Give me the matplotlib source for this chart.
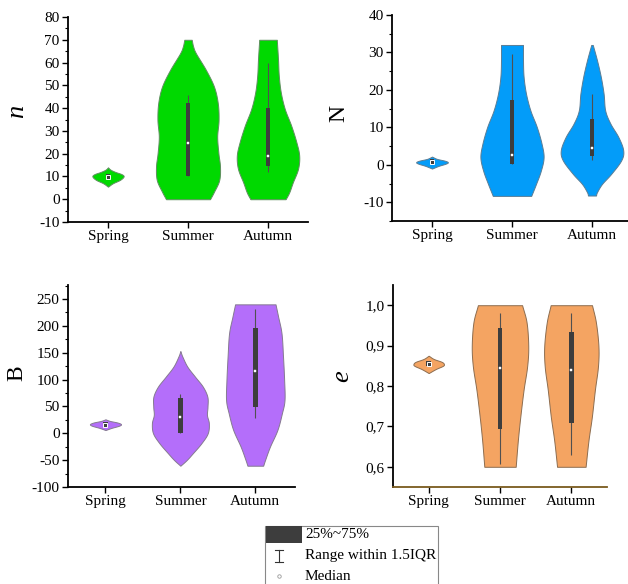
import numpy as np
import matplotlib
matplotlib.use("Agg")
import matplotlib.pyplot as plt
from matplotlib.patches import Rectangle
from matplotlib.lines import Line2D
from matplotlib.ticker import MultipleLocator, FuncFormatter

plt.rcParams['font.family'] = ['Liberation Serif', 'DejaVu Serif']
plt.rcParams['axes.unicode_minus'] = False

seasons = ["Spring", "Summer", "Autumn"]

# ---- violin outlines: value levels and half-widths (category units) ----
n_spring_y = [5.5, 7, 8.5, 10, 11, 12, 13, 14]
n_spring_w = [0, 0.06, 0.15, 0.195, 0.17, 0.09, 0.03, 0]
n_summer_y = [0, 3.3, 8.4, 14.3, 20.2, 27.5, 34.8, 42.2, 49.4, 56.7, 64, 67, 70]
n_summer_w = [0.275, 0.325, 0.39, 0.40, 0.38, 0.365, 0.382, 0.372, 0.325, 0.225, 0.10, 0.065, 0.046]
n_autumn_y = [0, 3, 7.4, 13.3, 19.1, 25, 32.3, 39.6, 46.9, 54.2, 61.5, 70]
n_autumn_w = [0.22, 0.265, 0.31, 0.375, 0.39, 0.355, 0.29, 0.21, 0.16, 0.135, 0.125, 0.11]

N_spring_y = [-1.0, -0.3, 0.3, 0.7, 1.1, 1.6, 2.2]
N_spring_w = [0, 0.08, 0.17, 0.198, 0.16, 0.06, 0]
N_summer_y = [-8.3, -5.1, -1.6, 2.0, 5.6, 10.1, 14.5, 19.0, 23.5, 27.9, 32]
N_summer_w = [0.24, 0.30, 0.36, 0.395, 0.37, 0.31, 0.23, 0.175, 0.145, 0.1375, 0.1375]
N_autumn_y = [-8.2, -7.3, -5.1, -2.4, 1.2, 3.9, 7.4, 11.0, 14.5, 19, 23.5, 27.9, 32]
N_autumn_w = [0.05, 0.0625, 0.125, 0.24, 0.365, 0.39, 0.33, 0.23, 0.165, 0.145, 0.11, 0.0625, 0.01]

B_spring_y = [6, 10, 14, 17, 20, 23, 26]
B_spring_w = [0, 0.08, 0.18, 0.207, 0.16, 0.06, 0]
B_summer_y = [-60.4, -49.8, -37.3, -18.6, 0, 18.6, 34, 49.5, 68.1, 86.7, 105.4, 124, 142.6, 153]
B_summer_w = [0.0, 0.084, 0.165, 0.28, 0.365, 0.38, 0.355, 0.362, 0.36, 0.30, 0.195, 0.093, 0.027, 0.0]
B_autumn_y = [-60.4, -49.8, -25, 6.2, 37.2, 62, 99.2, 142.6, 186, 217, 240]
B_autumn_w = [0.105, 0.13, 0.195, 0.295, 0.355, 0.39, 0.385, 0.37, 0.35, 0.305, 0.27]

e_spring_y = [0.832, 0.842, 0.85, 0.855, 0.86, 0.867, 0.875]
e_spring_w = [0, 0.1, 0.2, 0.212, 0.18, 0.07, 0]
e_summer_y = [0.6, 0.665, 0.723, 0.79, 0.848, 0.898, 0.957, 1.0]
e_summer_w = [0.22, 0.25, 0.284, 0.33, 0.38, 0.396, 0.373, 0.31]
e_autumn_y = [0.6, 0.665, 0.723, 0.79, 0.848, 0.898, 0.957, 1.0]
e_autumn_w = [0.2, 0.24, 0.287, 0.33, 0.373, 0.38, 0.345, 0.29]

# ---- box statistics (Spring, Summer, Autumn) ----
n_q1 = [8.8, 10.3, 14.8]; n_q3 = [11.0, 42.2, 40.0]; n_med = [9.8, 24.9, 19.0]
n_wlo = [8.8, 10.3, 11.8]; n_whi = [11.0, 45.8, 60.0]
N_q1 = [0.15, 0.2, 2.4]; N_q3 = [1.5, 17.2, 12.1]; N_med = [0.8, 2.7, 4.5]
N_wlo = [0.15, 0.2, 1.2]; N_whi = [1.5, 29.5, 19.0]
B_q1 = [11.5, 1.1, 48.4]; B_q3 = [20.8, 66.3, 196.6]; B_med = [16.2, 29.8, 116]
B_wlo = [11.5, 1.1, 27.9]; B_whi = [20.8, 72.5, 231.4]
e_q1 = [0.849, 0.694, 0.709]; e_q3 = [0.861, 0.944, 0.934]; e_med = [0.855, 0.844, 0.839]
e_wlo = [0.849, 0.608, 0.629]; e_whi = [0.861, 0.98, 0.98]


def catmull(y, w, k=12):
    y = np.asarray(y, float); w = np.asarray(w, float)
    P = np.column_stack([y, w])
    P = np.vstack([P[0] - (P[1] - P[0]), P, P[-1] + (P[-1] - P[-2])])
    out = []
    for i in range(1, len(P) - 2):
        p0, p1, p2, p3 = P[i - 1], P[i], P[i + 1], P[i + 2]
        for t in np.linspace(0, 1, k, endpoint=False):
            t2, t3 = t * t, t * t * t
            pt = 0.5 * ((2 * p1) + (-p0 + p2) * t + (2 * p0 - 5 * p1 + 4 * p2 - p3) * t2
                        + (-p0 + 3 * p1 - 3 * p2 + p3) * t3)
            out.append(pt)
    out.append(P[-2])
    out = np.array(out)
    return out[:, 0], np.clip(out[:, 1], 0, None)


W, H = 628, 584
fig = plt.figure(figsize=(W / 100, H / 100), dpi=100)


def add_ax(l, r, t, b):
    return fig.add_axes([l / W, 1 - b / H, (r - l) / W, (b - t) / H])


panels = [
    dict(rect=(68, 308, 17, 222), xlim=(0.5, 3.5), ylim=(-10, 80), major=10, minor=5,
         color='#00D900', edge='#5f8f5f',
         prof=[(n_spring_y, n_spring_w), (n_summer_y, n_summer_w), (n_autumn_y, n_autumn_w)],
         stats=(n_q1, n_q3, n_med, n_wlo, n_whi), fmt=None),
    dict(rect=(392, 628, 15, 221), xlim=(0.5, 3.45), ylim=(-15, 40), major=10, minor=5,
         color='#039CF9', edge='#5a7d95',
         prof=[(N_spring_y, N_spring_w), (N_summer_y, N_summer_w), (N_autumn_y, N_autumn_w)],
         stats=(N_q1, N_q3, N_med, N_wlo, N_whi), fmt=None),
    dict(rect=(68, 295, 285, 487), xlim=(0.5, 3.53), ylim=(-100, 276), major=50, minor=25,
         color='#B46EFA', edge='#857a90',
         prof=[(B_spring_y, B_spring_w), (B_summer_y, B_summer_w), (B_autumn_y, B_autumn_w)],
         stats=(B_q1, B_q3, B_med, B_wlo, B_whi), fmt=None),
    dict(rect=(393, 607, 285, 487), xlim=(0.5, 3.5), ylim=(0.55, 1.05), major=0.1, minor=None,
         color='#F4A462', edge='#8c6d50',
         prof=[(e_spring_y, e_spring_w), (e_summer_y, e_summer_w), (e_autumn_y, e_autumn_w)],
         stats=(e_q1, e_q3, e_med, e_wlo, e_whi), fmt='comma'),
]

positions = [1, 2, 3]
for i, p in enumerate(panels):
    ax = add_ax(*p['rect'])
    for pos, (yy, ww) in zip(positions, p['prof']):
        ys, ws = catmull(yy, ww)
        ax.fill_betweenx(ys, pos - ws, pos + ws, facecolor=p['color'],
                         edgecolor=p['edge'], linewidth=0.7, zorder=2)
    q1, q3, med, wlo, whi = p['stats']
    ax.vlines(positions, wlo, whi, color='#505050', linewidth=0.8, zorder=3)
    ax.bar(positions, np.array(q3) - np.array(q1), bottom=q1, width=0.062,
           color='#3d3d3d', edgecolor='none', zorder=4)
    # Spring median: small ringed square; others: tiny white dot
    ax.plot(positions[:1], med[:1], linestyle='none', marker='s', markersize=2.6,
            markerfacecolor='#3d3d3d', markeredgecolor='white', markeredgewidth=0.7, zorder=5)
    ax.plot(positions[1:], med[1:], linestyle='none', marker='s', markersize=1.6,
            markerfacecolor='white', markeredgecolor='white', markeredgewidth=0.3, zorder=5)

    ax.set_xlim(*p['xlim'])
    ax.set_ylim(*p['ylim'])
    ax.set_xticks(positions)
    ax.set_xticklabels(seasons)
    ax.yaxis.set_major_locator(MultipleLocator(p['major']))
    if p['minor']:
        ax.yaxis.set_minor_locator(MultipleLocator(p['minor']))
    if p['fmt'] == 'comma':
        ax.yaxis.set_major_formatter(FuncFormatter(lambda v, _: f"{v:.1f}".replace('.', ',')))
    for s in ['top', 'right']:
        ax.spines[s].set_visible(False)
    for s in ['left', 'bottom']:
        ax.spines[s].set_linewidth(1.3)
    if i == 3:
        ax.spines['bottom'].set_color('#7a5a1e')
    ax.tick_params(axis='both', which='major', direction='out', length=4, width=1.0,
                   labelsize=11, pad=2)
    ax.tick_params(axis='y', which='minor', direction='out', length=2, width=0.8)
    ax.patch.set_alpha(0)

# axis titles
fig.text(17 / W, 1 - 111 / H, 'n', fontsize=19, style='italic', rotation=90,
         ha='center', va='center')
fig.text(339 / W, 1 - 113 / H, 'N', fontsize=17, rotation=90, ha='center', va='center')
fig.text(17 / W, 1 - 373 / H, 'B', fontsize=17, rotation=90, ha='center', va='center')
fig.text(342 / W, 1 - 376 / H, 'e', fontsize=19, style='italic', rotation=90,
         ha='center', va='center')

# legend
fig.add_artist(Rectangle((265 / W, 1 - 590 / H), (438 - 265) / W, (590 - 526) / H,
                         transform=fig.transFigure, facecolor='white',
                         edgecolor='#888888', linewidth=0.8))
fig.add_artist(Rectangle((266 / W, 1 - 543 / H), (302 - 266) / W, (543 - 526) / H,
                         transform=fig.transFigure, facecolor='#3d3d3d', edgecolor='none'))
fig.add_artist(Line2D([279 / W, 279 / W], [1 - 550 / H, 1 - 562 / H],
                      transform=fig.transFigure, color='#333333', linewidth=0.8))
for yy in (550, 562):
    fig.add_artist(Line2D([275 / W, 283 / W], [1 - yy / H, 1 - yy / H],
                          transform=fig.transFigure, color='#333333', linewidth=0.8))
fig.add_artist(Line2D([279 / W], [1 - 576 / H], transform=fig.transFigure,
                      marker='o', markersize=2.5, markerfacecolor='white',
                      markeredgecolor='#999999', markeredgewidth=0.6, linestyle='none'))
fig.text(305 / W, 1 - 535 / H, '25%~75%', fontsize=11, ha='left', va='center')
fig.text(305 / W, 1 - 556 / H, 'Range within 1.5IQR', fontsize=11, ha='left', va='center')
fig.text(305 / W, 1 - 576 / H, 'Median', fontsize=11, ha='left', va='center')

fig.savefig('out.png', dpi=100)
